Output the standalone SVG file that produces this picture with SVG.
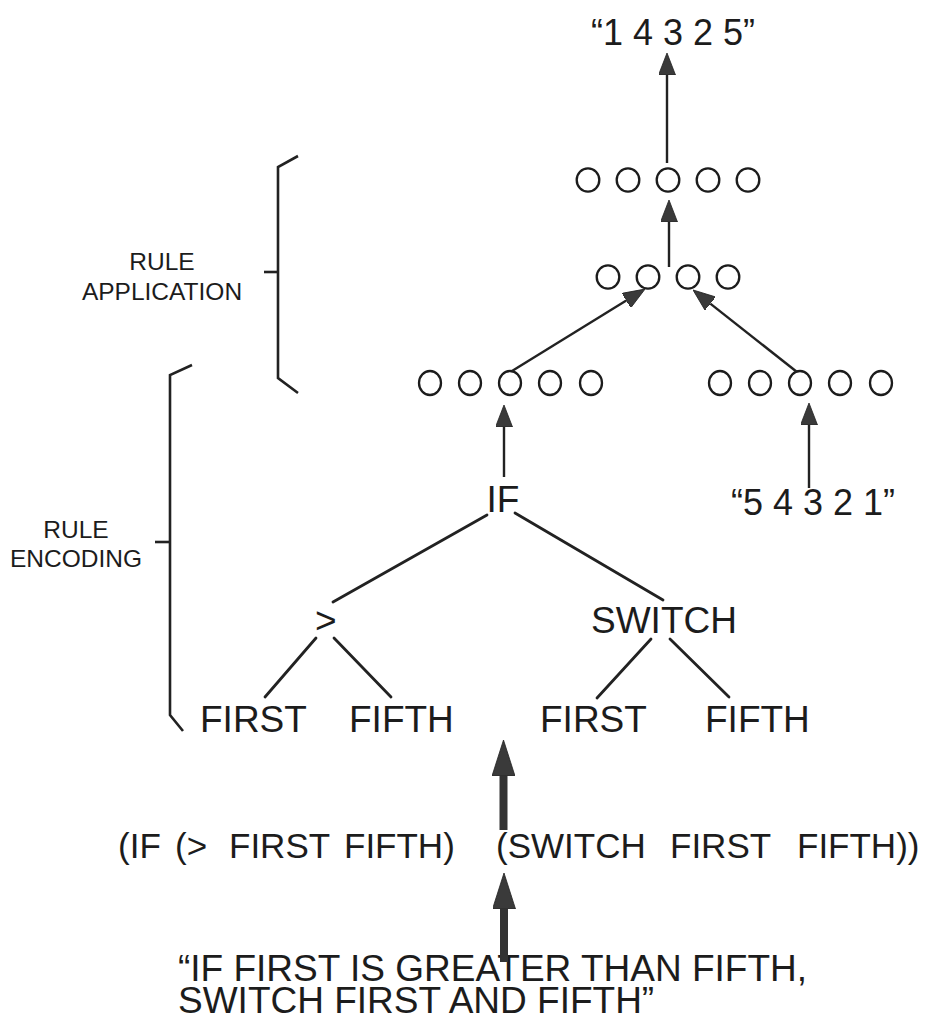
<svg xmlns="http://www.w3.org/2000/svg" width="932" height="1026" viewBox="0 0 932 1026">
  <style>
    text { font-family: "Liberation Sans", Arial, Helvetica, sans-serif; fill: #1c1c1c; }
    .big { font-size: 37px; }
    .expr { font-size: 35px; }
    .num { font-size: 36px; }
    .lab { font-size: 24.5px; text-anchor: middle; }
    .unit { fill: none; stroke: #1c1c1c; stroke-width: 2.3; }
    .edge { stroke: #222; stroke-width: 2.8; fill: none; stroke-linecap: round; }
    .thin { stroke: #222; stroke-width: 2.4; fill: none; }
    .thick { stroke: #333; stroke-width: 8; fill: none; }
    .brace { stroke: #222; stroke-width: 2.6; fill: none; stroke-linejoin: miter; }
  </style>
  <defs>
    <marker id="head" markerUnits="userSpaceOnUse" viewBox="0 0 22 17" refX="0" refY="8.5" markerWidth="22" markerHeight="17" orient="auto">
      <path d="M0,0 L22,8.5 L0,17 z" fill="#3a3a3a" stroke="#222" stroke-width="0.8"/>
    </marker>
    <marker id="bighead" markerUnits="userSpaceOnUse" viewBox="0 0 36 23" refX="0" refY="11.5" markerWidth="36" markerHeight="23" orient="auto">
      <path d="M0,0 L36,11.5 L0,23 z" fill="#3a3a3a" stroke="#222" stroke-width="0.8"/>
    </marker>
  </defs>

  <!-- section braces with their labels -->
  <g id="brace-application">
    <polyline class="brace" points="298,156 278,167 278,378 298,393"/>
    <line class="brace" x1="264" y1="272" x2="278" y2="272"/>
    <text class="lab" x="162" y="270">RULE</text>
    <text class="lab" x="162" y="300">APPLICATION</text>
  </g>
  <g id="brace-encoding">
    <polyline class="brace" points="192,365 170,375 170,715 183,731"/>
    <line class="brace" x1="155" y1="542" x2="170" y2="542"/>
    <text class="lab" x="76" y="538">RULE</text>
    <text class="lab" x="76" y="567">ENCODING</text>
  </g>

  <!-- output string -->
  <g id="output">
    <text class="num" x="591" y="45">“1 4 3 2 5”</text>
  </g>

  <!-- unit layers -->
  <g id="layer-out">
    <ellipse class="unit" cx="588" cy="180" rx="11.3" ry="11.7"/>
    <ellipse class="unit" cx="628" cy="180" rx="11.3" ry="11.7"/>
    <ellipse class="unit" cx="668" cy="180" rx="11.3" ry="11.7"/>
    <ellipse class="unit" cx="708" cy="180" rx="11.3" ry="11.7"/>
    <ellipse class="unit" cx="748" cy="180" rx="11.3" ry="11.7"/>
  </g>
  <g id="layer-hidden">
    <ellipse class="unit" cx="608" cy="277" rx="11.3" ry="11.7"/>
    <ellipse class="unit" cx="648" cy="277" rx="11.3" ry="11.7"/>
    <ellipse class="unit" cx="688" cy="277" rx="11.3" ry="11.7"/>
    <ellipse class="unit" cx="728" cy="277" rx="11.3" ry="11.7"/>
  </g>
  <g id="layer-rule">
    <ellipse class="unit" cx="430" cy="383" rx="11" ry="12"/>
    <ellipse class="unit" cx="470" cy="383" rx="11" ry="12"/>
    <ellipse class="unit" cx="510" cy="383" rx="11" ry="12"/>
    <ellipse class="unit" cx="550" cy="383" rx="11" ry="12"/>
    <ellipse class="unit" cx="591" cy="383" rx="11" ry="12"/>
  </g>
  <g id="layer-input">
    <ellipse class="unit" cx="720" cy="383" rx="11" ry="12"/>
    <ellipse class="unit" cx="760" cy="383" rx="11" ry="12"/>
    <ellipse class="unit" cx="800" cy="383" rx="11" ry="12"/>
    <ellipse class="unit" cx="840" cy="383" rx="11" ry="12"/>
    <ellipse class="unit" cx="881" cy="383" rx="11" ry="12"/>
  </g>

  <!-- input string -->
  <g id="input">
    <text class="num" x="731" y="515">“5 4 3 2 1”</text>
  </g>

  <!-- parse tree -->
  <g id="node-if"><text class="big" x="486.5" y="512">IF</text></g>
  <g id="node-gt"><text class="big" x="315" y="633">&gt;</text></g>
  <g id="node-switch"><text class="big" x="591" y="633">SWITCH</text></g>
  <g id="leaf-first-1"><text class="big" x="200" y="732">FIRST</text></g>
  <g id="leaf-fifth-1"><text class="big" x="349" y="732">FIFTH</text></g>
  <g id="leaf-first-2"><text class="big" x="540" y="732">FIRST</text></g>
  <g id="leaf-fifth-2"><text class="big" x="705" y="732">FIFTH</text></g>

  <!-- symbolic form -->
  <g id="expression">
    <text class="expr" y="858"><tspan x="118">(IF</tspan><tspan x="175">(&gt;</tspan><tspan x="229">FIRST</tspan><tspan x="344">FIFTH)</tspan><tspan x="496">(SWITCH</tspan><tspan x="670">FIRST</tspan><tspan x="797">FIFTH))</tspan></text>
  </g>

  <!-- English sentence -->
  <g id="sentence">
    <text class="big" x="178" y="981">“IF FIRST IS GREATER THAN FIFTH,</text>
    <text class="big" x="178" y="1013">SWITCH FIRST AND FIFTH”</text>
  </g>

  <!-- connectors -->
  <g id="connectors">
    <!-- tree edges -->
    <line class="edge" x1="487" y1="515" x2="333" y2="602"/>
    <line class="edge" x1="515" y1="513" x2="663" y2="600"/>
    <line class="edge" x1="316" y1="638" x2="265" y2="697"/>
    <line class="edge" x1="334" y1="638" x2="391" y2="697"/>
    <line class="edge" x1="651" y1="639" x2="597" y2="698"/>
    <line class="edge" x1="670" y1="639" x2="729" y2="697"/>
    <!-- network arrows -->
    <line class="thin" x1="667" y1="163" x2="667" y2="75" marker-end="url(#head)"/>
    <line class="thin" x1="669" y1="267" x2="669" y2="222" marker-end="url(#head)"/>
    <line class="thin" x1="512" y1="371" x2="626.3" y2="300.6" marker-end="url(#head)"/>
    <line class="thin" x1="797" y1="372" x2="710.3" y2="303.6" marker-end="url(#head)"/>
    <line class="thin" x1="504" y1="477" x2="504" y2="427" marker-end="url(#head)"/>
    <line class="thin" x1="809" y1="488" x2="809" y2="425" marker-end="url(#head)"/>
    <!-- translation arrows -->
    <line class="thick" x1="503.5" y1="830" x2="503.5" y2="776" marker-end="url(#bighead)"/>
    <line class="thick" x1="504" y1="962" x2="504" y2="909" marker-end="url(#bighead)"/>
  </g>
</svg>
